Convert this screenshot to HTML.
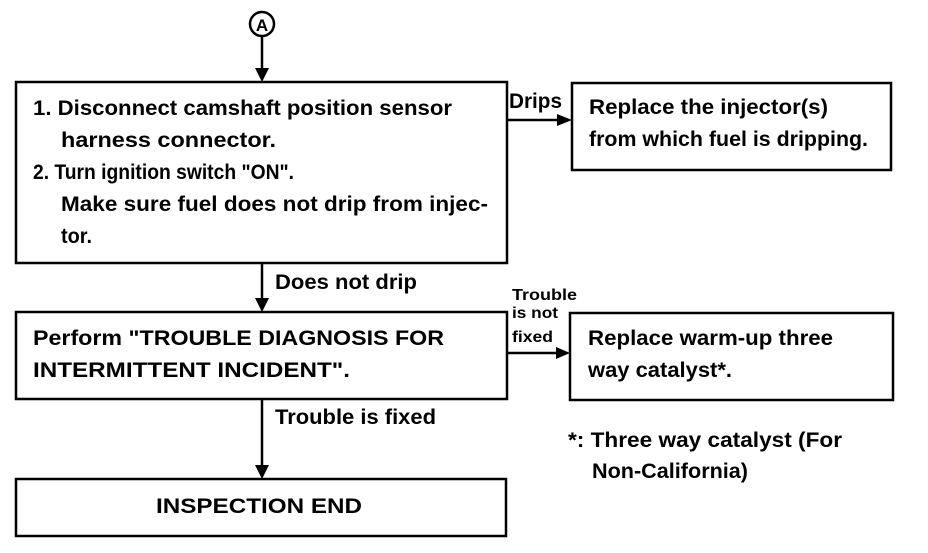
<!DOCTYPE html>
<html><head><style>
body{margin:0;background:#fff;}
svg text{font-family:"Liberation Sans",Arial,sans-serif;font-weight:bold;fill:#000;}
</style></head><body>
<svg width="928" height="548" viewBox="0 0 928 548" xmlns="http://www.w3.org/2000/svg">
<g fill="none" stroke="#000" stroke-width="2.5">
<circle cx="262" cy="24" r="12"/>
<rect x="16" y="82" width="491" height="181"/>
<rect x="572" y="83" width="319" height="87"/>
<rect x="16" y="312" width="491" height="87"/>
<rect x="570" y="313" width="323" height="87"/>
<rect x="16" y="479" width="490" height="57"/>
<line x1="262" y1="36" x2="262" y2="70"/>
<line x1="262" y1="263" x2="262" y2="300"/>
<line x1="262" y1="399" x2="262" y2="466"/>
<line x1="507" y1="120" x2="558" y2="120"/>
<line x1="507" y1="353" x2="556" y2="353"/>
</g>
<g fill="#000">
<polygon points="255,68 269,68 262,82"/>
<polygon points="255,298 269,298 262,312"/>
<polygon points="255,465 269,465 262,479"/>
<polygon points="557,114 557,126 572,120"/>
<polygon points="556,347 556,359 570,353"/>
</g>
<text x="262" y="31" font-size="17" text-anchor="middle">A</text>
<g font-size="21" lengthAdjust="spacingAndGlyphs">
<text x="33" y="115" textLength="419" lengthAdjust="spacingAndGlyphs">1. Disconnect camshaft position sensor</text>
<text x="61" y="147" textLength="215" lengthAdjust="spacingAndGlyphs">harness connector.</text>
<text x="33" y="179" textLength="261" lengthAdjust="spacingAndGlyphs">2. Turn ignition switch "ON".</text>
<text x="61" y="211" textLength="427" lengthAdjust="spacingAndGlyphs">Make sure fuel does not drip from injec-</text>
<text x="61" y="243" textLength="31" lengthAdjust="spacingAndGlyphs">tor.</text>
<text x="509" y="108" textLength="53" lengthAdjust="spacingAndGlyphs">Drips</text>
<text x="589" y="114" textLength="239" lengthAdjust="spacingAndGlyphs">Replace the injector(s)</text>
<text x="589" y="146" textLength="279" lengthAdjust="spacingAndGlyphs">from which fuel is dripping.</text>
<text x="275" y="289" textLength="142" lengthAdjust="spacingAndGlyphs">Does not drip</text>
<text x="33" y="345" textLength="411" lengthAdjust="spacingAndGlyphs">Perform "TROUBLE DIAGNOSIS FOR</text>
<text x="33" y="377" textLength="317" lengthAdjust="spacingAndGlyphs">INTERMITTENT INCIDENT".</text>
<text x="588" y="345" textLength="245" lengthAdjust="spacingAndGlyphs">Replace warm-up three</text>
<text x="588" y="377" textLength="144" lengthAdjust="spacingAndGlyphs">way catalyst*.</text>
<text x="275" y="424" textLength="161" lengthAdjust="spacingAndGlyphs">Trouble is fixed</text>
<text x="568" y="447" textLength="274" lengthAdjust="spacingAndGlyphs">*: Three way catalyst (For</text>
<text x="592" y="478" textLength="156" lengthAdjust="spacingAndGlyphs">Non-California)</text>
<text x="156" y="513" textLength="206" lengthAdjust="spacingAndGlyphs">INSPECTION END</text>
</g>
<g font-size="16">
<text x="512" y="300" textLength="65" lengthAdjust="spacingAndGlyphs">Trouble</text>
<text x="512" y="318" textLength="46" lengthAdjust="spacingAndGlyphs">is not</text>
<text x="512" y="342" textLength="41" lengthAdjust="spacingAndGlyphs">fixed</text>
</g>
</svg>
</body></html>
